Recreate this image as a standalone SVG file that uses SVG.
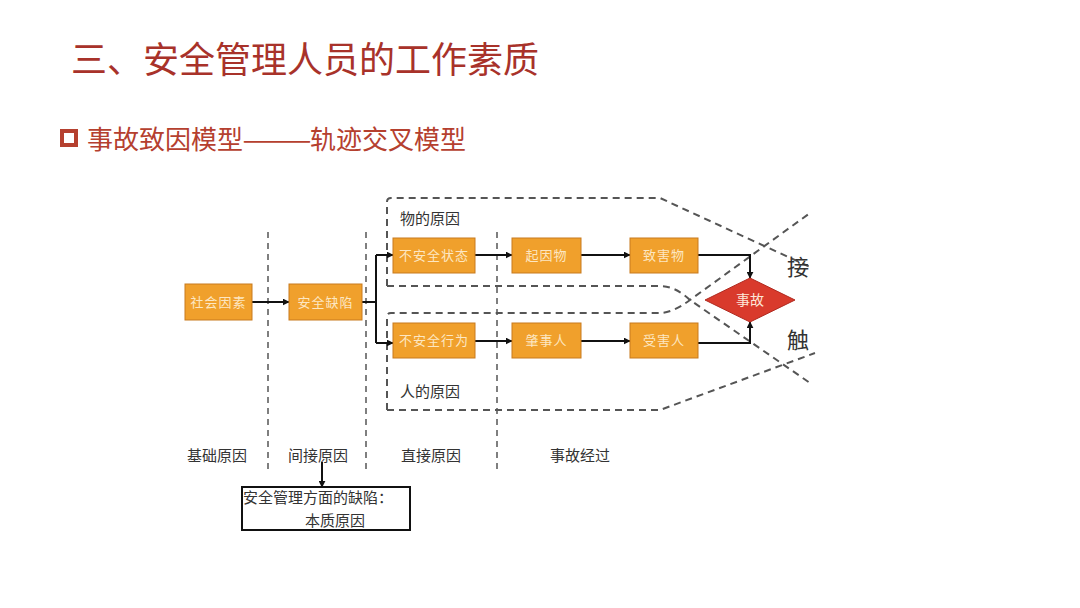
<svg xmlns="http://www.w3.org/2000/svg" width="1080" height="608" viewBox="0 0 1080 608">
<defs>
<marker id="ah" viewBox="0 0 10 10" refX="9" refY="5" markerWidth="7" markerHeight="7" markerUnits="userSpaceOnUse" orient="auto"><path d="M0,0 L10,5 L0,10 z" fill="#111"/></marker>
<style>
.t{font-family:"Noto Sans CJK SC","Liberation Sans",sans-serif}
.box rect{fill:#f0a02c;stroke:#c87a1e;stroke-width:1}
.box text{font-family:"Noto Sans CJK SC",sans-serif;font-size:13px;fill:#fde7c2;text-anchor:middle;letter-spacing:1px}
.lbl{font-family:"Noto Sans CJK SC",sans-serif;font-size:15px;fill:#333}
.dash{fill:none;stroke:#555;stroke-width:2;stroke-dasharray:7,5}
.vd{fill:none;stroke:#555;stroke-width:1.5;stroke-dasharray:6,5}
.ln{fill:none;stroke:#111;stroke-width:2}
.sub{font-family:"Noto Sans CJK SC","Liberation Sans",sans-serif;font-size:26px;fill:#b5402f}
</style>
</defs>
<rect width="1080" height="608" fill="#fff"/>
<text class="t" x="71" y="73" font-size="36" fill="#a8322a">三、安全管理人员的工作素质</text>
<rect x="62" y="131" width="14" height="14" fill="none" stroke="#b5402f" stroke-width="4"/>
<text class="sub" x="87" y="149">事故致因模型<tspan x="242" textLength="70" lengthAdjust="spacingAndGlyphs">——</tspan><tspan x="310">轨迹交叉模型</tspan></text>

<g id="regions">
<path class="vd" d="M268,232 V470 M366,232 V470 M497,232 V470"/>
<path class="dash" d="M387,286 V202 Q387,198 391,198 H660 L810,267"/>
<path class="dash" d="M387,286 H660 Q675,286 690,300 L810,383"/>
<path class="dash" d="M387,410 V317 Q387,313 391,313 H660 Q672,313 690,300 L810,213"/>
<path class="dash" d="M387,410 H660 L815,353"/>
</g>

<g id="connectors">
<path class="ln" d="M252,302 H289" marker-end="url(#ah)"/>
<path class="ln" d="M362,302 H376"/>
<path class="ln" d="M376,255 V343"/>
<path class="ln" d="M376,255 H393" marker-end="url(#ah)"/>
<path class="ln" d="M376,343 H393" marker-end="url(#ah)"/>
<path class="ln" d="M475,255 H512" marker-end="url(#ah)"/>
<path class="ln" d="M581,255 H630" marker-end="url(#ah)"/>
<path class="ln" d="M475,341 H512" marker-end="url(#ah)"/>
<path class="ln" d="M581,341 H630" marker-end="url(#ah)"/>
<path class="ln" d="M698,255 H750 V278" marker-end="url(#ah)"/>
<path class="ln" d="M698,343 H750 V322" marker-end="url(#ah)"/>
<path class="ln" d="M322,462 V487" marker-end="url(#ah)"/>
</g>

<g id="n1" class="box"><rect x="185" y="284" width="67" height="36"/><text x="218.5" y="307">社会因素</text></g>
<g id="n2" class="box"><rect x="289" y="284" width="73" height="36"/><text x="325.5" y="307">安全缺陷</text></g>
<g id="n3" class="box"><rect x="393" y="238" width="82" height="35"/><text x="434" y="260">不安全状态</text></g>
<g id="n4" class="box"><rect x="512" y="238" width="69" height="35"/><text x="546.5" y="260">起因物</text></g>
<g id="n5" class="box"><rect x="630" y="238" width="68" height="35"/><text x="664" y="260">致害物</text></g>
<g id="n6" class="box"><rect x="393" y="323" width="82" height="35"/><text x="434" y="345">不安全行为</text></g>
<g id="n7" class="box"><rect x="512" y="323" width="69" height="35"/><text x="546.5" y="345">肇事人</text></g>
<g id="n8" class="box"><rect x="630" y="323" width="68" height="35"/><text x="664" y="345">受害人</text></g>
<g id="n9"><path d="M705,300 L750,278 L795,300 L750,322 z" fill="#d93a2c" stroke="#b02a20" stroke-width="1"/><text x="750" y="305" font-family="Noto Sans CJK SC,sans-serif" font-size="14" fill="#fde7d8" text-anchor="middle">事故</text></g>

<text class="lbl" x="400" y="224">物的原因</text>
<text class="lbl" x="400" y="397">人的原因</text>
<text class="t" x="787" y="275" font-size="22" fill="#333">接</text>
<text class="t" x="787" y="348" font-size="22" fill="#333">触</text>
<text class="lbl" x="187" y="461">基础原因</text>
<text class="lbl" x="288" y="461">间接原因</text>
<text class="lbl" x="401" y="461">直接原因</text>
<text class="lbl" x="550" y="461">事故经过</text>

<g id="n10">
<rect x="242" y="487" width="168" height="43" fill="#fff" stroke="#111" stroke-width="2"/>
<text class="lbl" x="243" y="503" fill="#111">安全管理方面的缺陷：</text>
<text class="lbl" x="305" y="526" fill="#111">本质原因</text>
</g>
</svg>
